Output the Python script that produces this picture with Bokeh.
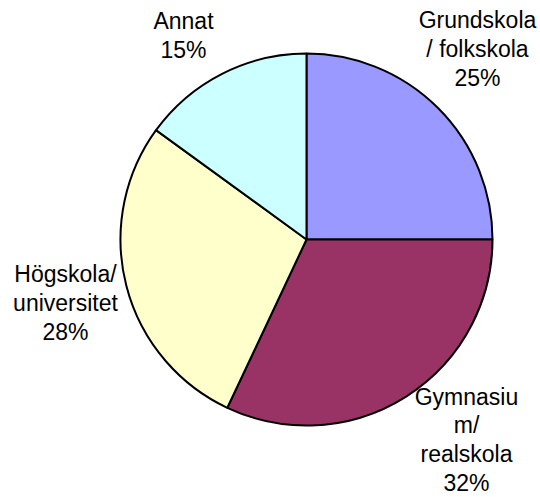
import math
from bokeh.plotting import figure
from bokeh.models import Range1d, ColumnDataSource
from bokeh.core.properties import value
from bokeh.embed import file_html
from bokeh.resources import INLINE

# Data
categories = ["Grundskola\n/ folkskola", "Gymnasiu\nm/\nrealskola", "Högskola/\nuniversitet", "Annat"]
shares = [25, 32, 28, 15]
colors = ["#9999FF", "#993366", "#FFFFCC", "#CCFFFF"]

# Layout (pixel-like coordinates, y up)
W, H = 540, 497
cx, cy, r = 306, 258, 186
label_xy = [(477, 478), (466, 101), (65, 224), (183, 477)]  # top line centre of each label
label_gap = [29.3, 28.8, 29.3, 29.3]
font_px = 23

start, end = [], []
cum = 0
for s in shares:
    end.append(math.radians(90 - cum * 3.6))
    cum += s
    start.append(math.radians(90 - cum * 3.6))

src = ColumnDataSource(dict(x=[cx] * 4, y=[cy] * 4, start=start, end=end, color=colors))

p = figure(width=W, height=H, output_backend="svg", toolbar_location=None,
           x_range=Range1d(0, W), y_range=Range1d(0, H), min_border=0)
p.axis.visible = False
p.grid.visible = False
p.outline_line_color = None
p.background_fill_color = "white"

p.wedge(x="x", y="y", radius=r, start_angle="start", end_angle="end",
        fill_color="color", line_color="black", line_width=2, source=src)

tx, ty, tt = [], [], []
for cat, s, (lx, ly), gap in zip(categories, shares, label_xy, label_gap):
    lines = cat.split("\n") + [f"{s}%"]
    for i, ln in enumerate(lines):
        tx.append(lx)
        ty.append(ly - i * gap)
        tt.append(ln)

p.text(x=tx, y=ty, text=tt, text_font=value("Liberation Sans"),
       text_font_size=f"{font_px}px", text_align="center", text_baseline="middle",
       text_color="black")

open("out.html", "w").write(file_html(p, INLINE))
